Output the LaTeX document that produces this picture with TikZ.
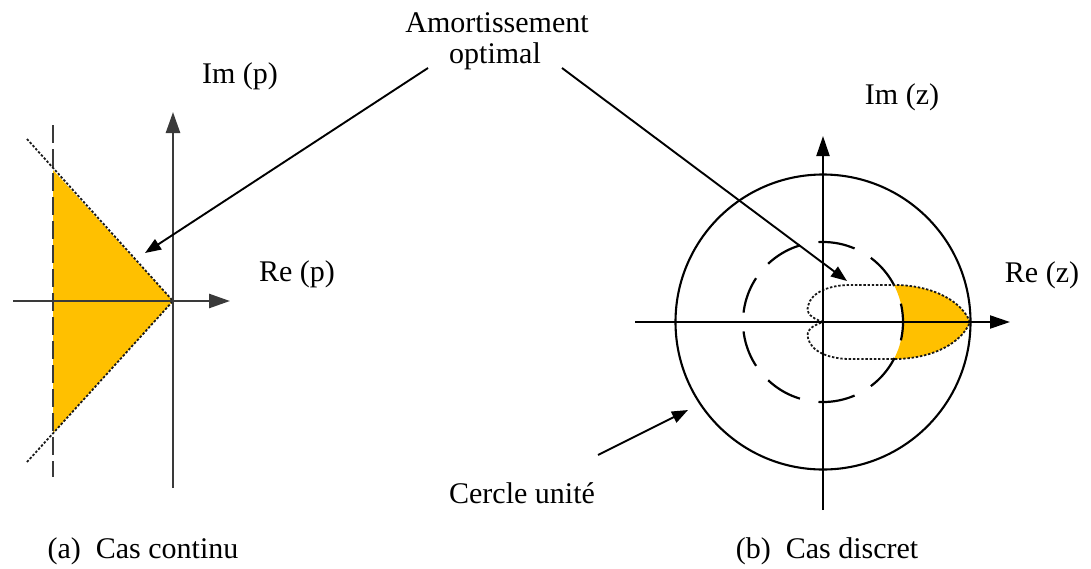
\documentclass[tikz,border=0pt]{standalone}
\usepackage{fontspec}
\setmainfont{Liberation Serif}
\usetikzlibrary{arrows.meta}
\definecolor{gold}{HTML}{FFC000}
\definecolor{axgray}{HTML}{3A3A3A}
\begin{document}
\begin{tikzpicture}[x=1pt,y=-1pt,
  lbl/.style={font=\fontsize{30}{31}\selectfont, inner sep=0pt, anchor=base},
  axisL/.style={draw=axgray, line width=2.6pt, -{Triangle[length=21pt,width=14pt]}},
  axisR/.style={draw=black, line width=2.1pt, -{Triangle[length=20pt,width=13pt]}},
  dashline/.style={draw=axgray, line width=2.4pt, dash pattern=on 18pt off 6pt},
  dotline/.style={draw=black!90, line width=1.8pt, dash pattern=on 2.4pt off 1.8pt},
  ptr/.style={draw=black, line width=1.9pt, -{Triangle[length=16pt,width=12pt]}},
  ring/.style={draw=black, line width=2.1pt},
  dashring/.style={draw=black, line width=2.2pt, dash pattern=on 37pt off 18.85pt, dash phase=18.5pt}
]
\useasboundingbox (0,0) rectangle (1091,568);

% ---------- (a) continuous ----------
\coordinate (O1) at (173,301);
\coordinate (T1) at (53,170);
\coordinate (B1) at (53,433);
\fill[gold] (T1) -- (O1) -- (B1) -- cycle;
\draw[dashline] (53,125) -- (53,477);
\coordinate (d1) at (27,139);
\coordinate (d2) at (27,462);
\draw[dotline] (d1) -- (O1);
\draw[dotline] (d2) -- (O1);
\coordinate (xl0) at (13,301);  \coordinate (xl1) at (230,301);
\coordinate (yl0) at (173,488); \coordinate (yl1) at (173,112);
\draw[axisL] (xl0) -- (xl1);
\draw[axisL] (yl0) -- (yl1);

% ---------- (b) discrete ----------
\coordinate (O2) at (823,322);
\def\lobe{(823,322) .. controls (811,318) and (806,313) .. (808,306)
  .. controls (811,292) and (830,285) .. (850,285) -- (897,285)
  .. controls (935,286) and (962,302) .. (970,322)
  .. controls (962,342) and (935,358) .. (897,359) -- (850,359)
  .. controls (830,359) and (811,352) .. (808,338)
  .. controls (806,331) and (811,326) .. (823,322)}
\begin{scope}
  \clip \lobe;
  \fill[gold, even odd rule] (760,240) rectangle (1000,410) (O2) circle[radius=80];
\end{scope}
\draw[ring] (O2) circle[radius=147.5];
\draw[dashring] (O2) circle[radius=80];
\draw[dotline] \lobe;
\coordinate (xr0) at (635,322);  \coordinate (xr1) at (1010,322);
\coordinate (yr0) at (823,510);  \coordinate (yr1) at (823,136);
\draw[axisR] (xr0) -- (xr1);
\draw[axisR] (yr0) -- (yr1);

% ---------- labels ----------
\node[lbl] (am1) at (497,32) {Amortissement};
\node[lbl] (am2) at (495,63) {optimal};
\node[lbl] (imp) at (240,83) {Im (p)};
\node[lbl] (rep) at (297,281) {Re (p)};
\node[lbl] (imz) at (902,104) {Im (z)};
\node[lbl] (rez) at (1042,282) {Re (z)};
\node[lbl] (cu) at (522,503) {Cercle unité};
\node[lbl] (ca) at (143,558) {(a)\ \ Cas continu};
\node[lbl] (cb) at (827,558) {(b)\ \ Cas discret};

% ---------- pointers ----------
\coordinate (p1s) at (428,68);  \coordinate (p1e) at (145,253);
\coordinate (p2s) at (562,68);  \coordinate (p2e) at (847,281);
\coordinate (p3s) at (598,455); \coordinate (p3e) at (688,410);
\draw[ptr] (p1s) -- (p1e);
\draw[ptr] (p2s) -- (p2e);
\draw[ptr] (p3s) -- (p3e);
\end{tikzpicture}
\end{document}
